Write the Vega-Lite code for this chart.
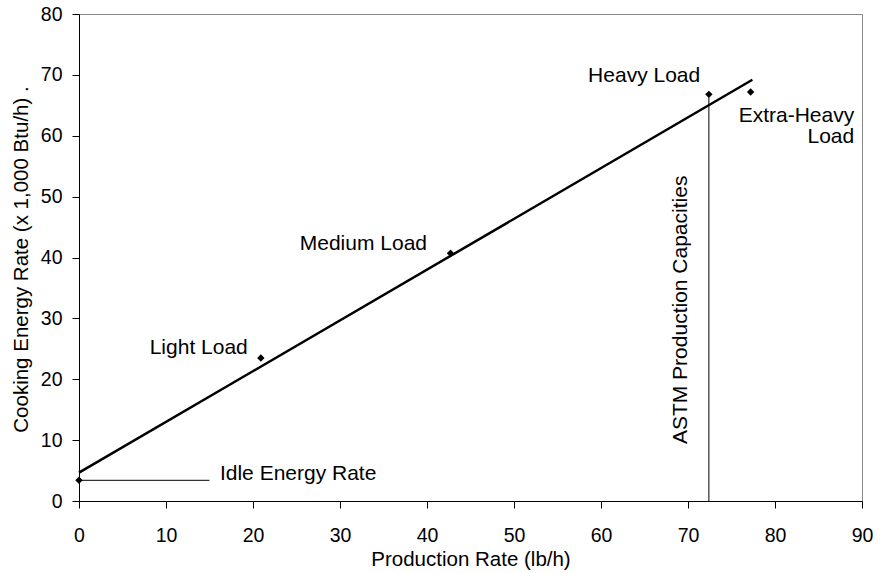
{
  "$schema": "https://vega.github.io/schema/vega-lite/v6.json",
  "width": 783,
  "height": 487,
  "autosize": "none",
  "padding": {"left": 79, "top": 14, "right": 21, "bottom": 72},
  "background": "white",
  "config": {
    "font": "Liberation Sans",
    "view": {"stroke": "#888888", "strokeWidth": 1},
    "axis": {
      "grid": false,
      "domainColor": "black",
      "tickColor": "black",
      "labelColor": "black",
      "titleColor": "black",
      "labelFont": "Liberation Sans",
      "titleFont": "Liberation Sans",
      "labelFontSize": 19.5,
      "titleFontSize": 20.5,
      "titleFontWeight": "normal",
      "labelFlush": false,
      "labelOverlap": false,
      "tickSize": 7
    }
  },
  "datasets": {
    "points": [
      {"x": 0, "y": 3.4, "load": "Idle"},
      {"x": 20.9, "y": 23.5, "load": "Light"},
      {"x": 42.7, "y": 40.7, "load": "Medium"},
      {"x": 72.4, "y": 66.8, "load": "Heavy"},
      {"x": 77.2, "y": 67.2, "load": "Extra-Heavy"}
    ],
    "fit": [
      {"x": 0, "y": 4.65},
      {"x": 77.4, "y": 69.2}
    ],
    "idle": [
      {"x": 0, "y": 3.4},
      {"x": 15, "y": 3.4}
    ],
    "astm": [
      {"x": 72.4, "y": 0},
      {"x": 72.4, "y": 66.3}
    ],
    "labelsRight": [
      {"x": 19.4, "y": 25.1, "text": "Light Load"},
      {"x": 40.0, "y": 42.2, "text": "Medium Load"},
      {"x": 71.4, "y": 69.8, "text": "Heavy Load"},
      {"x": 89.1, "y": 63.2, "text": "Extra-Heavy"},
      {"x": 89.1, "y": 59.8, "text": "Load"}
    ],
    "labelsLeft": [
      {"x": 16.2, "y": 4.4, "text": "Idle Energy Rate"}
    ],
    "labelsRot": [
      {"x": 69.2, "y": 31.4, "text": "ASTM Production Capacities"}
    ]
  },
  "layer": [
    {
      "data": {"name": "fit"},
      "mark": {"type": "line", "color": "black", "strokeWidth": 2.5},
      "encoding": {
        "x": {"field": "x", "type": "quantitative", "scale": {"domain": [0, 90]},
          "axis": {"values": [0,10,20,30,40,50,60,70,80,90], "title": "Production Rate (lb/h)", "labelPadding": 18, "titlePadding": 5}},
        "y": {"field": "y", "type": "quantitative", "scale": {"domain": [0, 80]},
          "axis": {"values": [0,5,10,15,20,25,30,35,40,45,50,55,60,65,70,75,80],
            "labelExpr": "datum.value % 10 === 0 ? datum.label : ''",
            "title": "Cooking Energy Rate (x 1,000 Btu/h)  .", "titleY": 245, "labelPadding": 10, "titlePadding": 9}}
      }
    },
    {
      "data": {"name": "idle"},
      "mark": {"type": "line", "color": "black", "strokeWidth": 1},
      "encoding": {
        "x": {"field": "x", "type": "quantitative"},
        "y": {"field": "y", "type": "quantitative"}
      }
    },
    {
      "data": {"name": "astm"},
      "mark": {"type": "line", "color": "black", "strokeWidth": 1},
      "encoding": {
        "x": {"field": "x", "type": "quantitative"},
        "y": {"field": "y", "type": "quantitative"}
      }
    },
    {
      "data": {"name": "points"},
      "mark": {"type": "point", "shape": "diamond", "filled": true, "color": "black", "size": 55, "opacity": 1},
      "encoding": {
        "x": {"field": "x", "type": "quantitative"},
        "y": {"field": "y", "type": "quantitative"}
      }
    },
    {
      "data": {"name": "labelsRight"},
      "mark": {"type": "text", "align": "right", "baseline": "middle", "fontSize": 21, "font": "Liberation Sans", "color": "black"},
      "encoding": {
        "x": {"field": "x", "type": "quantitative"},
        "y": {"field": "y", "type": "quantitative"},
        "text": {"field": "text"}
      }
    },
    {
      "data": {"name": "labelsLeft"},
      "mark": {"type": "text", "align": "left", "baseline": "middle", "fontSize": 21, "font": "Liberation Sans", "color": "black"},
      "encoding": {
        "x": {"field": "x", "type": "quantitative"},
        "y": {"field": "y", "type": "quantitative"},
        "text": {"field": "text"}
      }
    },
    {
      "data": {"name": "labelsRot"},
      "mark": {"type": "text", "align": "center", "baseline": "middle", "angle": 270, "fontSize": 21, "font": "Liberation Sans", "color": "black"},
      "encoding": {
        "x": {"field": "x", "type": "quantitative"},
        "y": {"field": "y", "type": "quantitative"},
        "text": {"field": "text"}
      }
    }
  ]
}
